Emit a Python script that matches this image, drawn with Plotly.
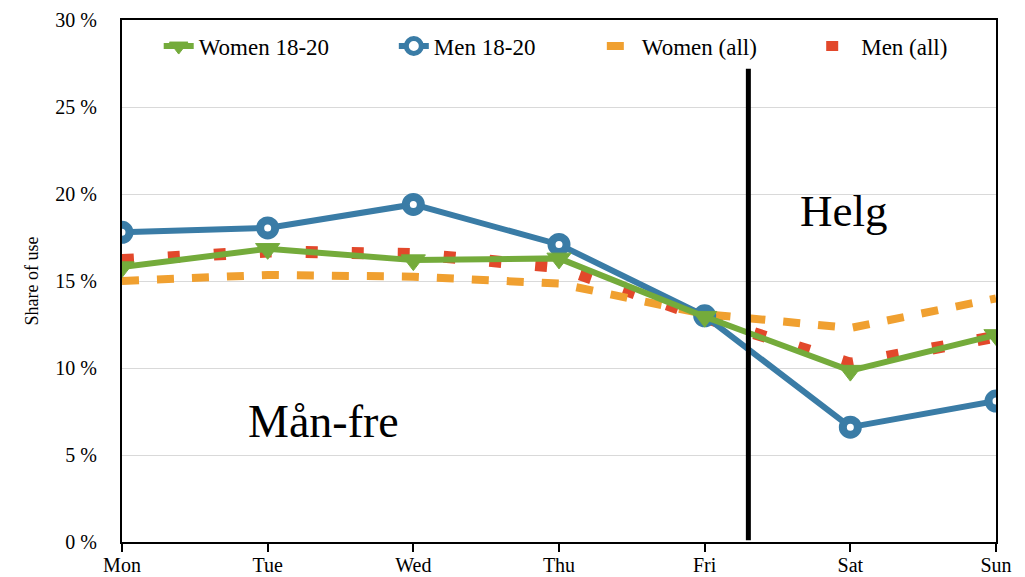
import plotly.graph_objects as go

# Share of use per weekday (%)
days = ["Mon", "Tue", "Wed", "Thu", "Fri", "Sat", "Sun"]
women_18_20 = [15.8, 16.85, 16.2, 16.3, 12.95, 9.85, 11.9]
men_18_20 = [17.8, 18.05, 19.4, 17.1, 13.0, 6.6, 8.1]
women_all = [15.0, 15.35, 15.25, 14.85, 13.1, 12.3, 14.0]
men_all = [16.2, 16.7, 16.55, 15.8, 12.9, 10.25, 11.8]

y_ticks = [0, 5, 10, 15, 20, 25, 30]
y_ticktext = [f"{v} %" for v in y_ticks]

# weekday / weekend divider, in category index units
split_x = 4.3

SERIF = "Liberation Serif, Times New Roman, serif"
x = list(range(len(days)))

fig = go.Figure()

# drawn bottom-up so the 18-20 series sit on top; each has its own legend
# so the entries can be spread out like in the original
fig.add_trace(go.Scatter(
    x=x, y=men_all, name="Men (all)", mode="lines",
    line=dict(color="#e2482b", width=12, dash="12px,34px"),
    legend="legend4",
))
fig.add_trace(go.Scatter(
    x=x, y=women_all, name="Women (all)", mode="lines",
    line=dict(color="#f0a030", width=8, dash="17px,18px"),
    legend="legend3",
))
fig.add_trace(go.Scatter(
    x=x, y=men_18_20, name="Men 18-20", mode="lines+markers",
    line=dict(color="#3a7ca6", width=6),
    marker=dict(symbol="circle", size=15, color="white",
                line=dict(color="#3a7ca6", width=8)),
    legend="legend2",
))
fig.add_trace(go.Scatter(
    x=x, y=women_18_20, name="Women 18-20", mode="lines+markers",
    line=dict(color="#74ab3b", width=6),
    marker=dict(symbol="triangle-down", size=21, color="#74ab3b",
                line=dict(color="#74ab3b", width=1)),
    legend="legend",
))

fig.add_shape(type="line", x0=split_x, x1=split_x, y0=0.1, y1=27.2,
              xref="x", yref="y", line=dict(color="black", width=5))

fig.add_annotation(x=4.95, y=19.0, text="Helg", showarrow=False,
                   font=dict(family=SERIF, size=45, color="black"))
fig.add_annotation(x=1.38, y=6.9, text="Mån-fre", showarrow=False,
                   font=dict(family=SERIF, size=46, color="black"))


def legend_at(xpos):
    return dict(
        orientation="h", x=xpos, y=0.95, xanchor="left", yanchor="middle",
        bgcolor="rgba(0,0,0,0)", font=dict(family=SERIF, size=23),
    )


# page body adds an 8px offset, so the figure is a bit smaller than the window
fig.update_layout(
    width=1017, height=569,
    margin=dict(l=114, r=29, t=12, b=35),
    paper_bgcolor="white", plot_bgcolor="white",
    font=dict(family=SERIF, size=21, color="black"),
    showlegend=True,
    legend=legend_at(0.042),
    legend2=legend_at(0.311),
    legend3=legend_at(0.549),
    legend4=legend_at(0.800),
    xaxis=dict(
        range=[0, 6], tickvals=x, ticktext=days,
        showgrid=False, zeroline=False, automargin=False,
        showline=True, linecolor="black", linewidth=2, mirror=True,
        ticks="outside", ticklen=8, tickcolor="black", tickwidth=1.5,
        tickfont=dict(size=20), ticklabelstandoff=-4,
        ticklabeloverflow="allow",
    ),
    yaxis=dict(
        range=[0, 30], tickvals=y_ticks, ticktext=y_ticktext,
        showgrid=True, gridcolor="#d9d9d9", gridwidth=1, zeroline=False,
        automargin=False,
        showline=True, linecolor="black", linewidth=2, mirror=True,
        ticks="", ticklabelstandoff=19, ticklabeloverflow="allow",
        tickfont=dict(size=20),
        title=dict(text="Share of use", font=dict(size=18), standoff=12),
    ),
)

fig.write_html("out.html")
